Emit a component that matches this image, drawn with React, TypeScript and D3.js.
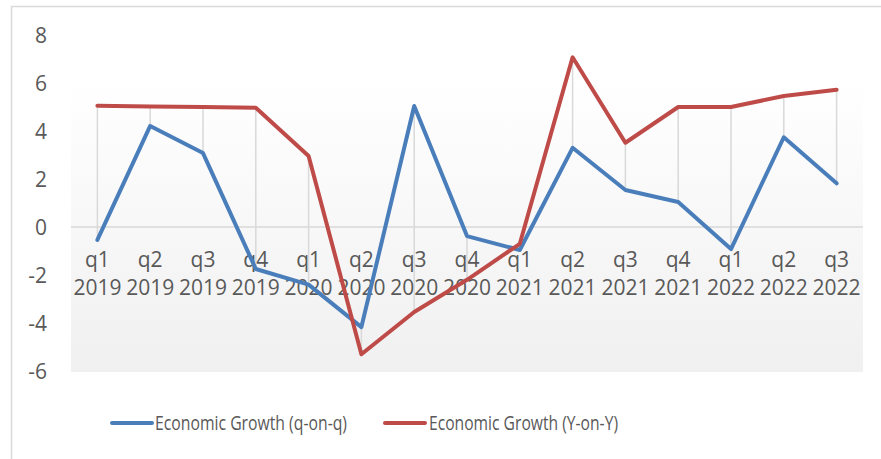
import React from "react";
import * as d3 from "d3";

const quarters = ["q1","q2","q3","q4","q1","q2","q3","q4","q1","q2","q3","q4","q1","q2","q3"];
const years = ["2019","2019","2019","2019","2020","2020","2020","2020","2021","2021","2021","2021","2022","2022","2022"];
const qoq = [-0.54, 4.21, 3.08, -1.75, -2.4, -4.17, 5.04, -0.38, -0.96, 3.3, 1.54, 1.04, -0.92, 3.74, 1.82];
const yoy = [5.05, 5.02, 5.0, 4.97, 2.96, -5.3, -3.54, -2.2, -0.7, 7.07, 3.51, 5.0, 5.0, 5.46, 5.72];
const yTicks = [-6, -4, -2, 0, 2, 4, 6, 8];
const seriesNames = ["Economic Growth (q-on-q)", "Economic Growth (Y-on-Y)"];
const colors = ["#4a7ebb", "#be4b48"];

const W = 881, H = 459;
const plotL = 71, plotR = 863, plotTop = 80, plotBottom = 372;
const FONT = "'Open Sans', 'Noto Sans', sans-serif";

export default function App() {
  const cats = quarters.map((q, i) => `${q} ${years[i]}`);
  const x = d3.scaleBand<string>().domain(cats).range([plotL, plotR]);
  const cx = (i: number) => (x(cats[i]) as number) + x.bandwidth() / 2;
  const y = d3.scaleLinear().domain([-6, 8]).range([371, 35]);
  const line = d3.line<number>().x((_, i) => cx(i)).y((d) => y(d));
  const series = [qoq, yoy];
  return (
    <svg width={W} height={H} style={{ position: "fixed", left: 0, top: 0, background: "#fff" }}>
      <defs>
        <linearGradient id="pg" x1="0" y1="0" x2="0" y2="1">
          <stop offset="0" stopColor="#ffffff" />
          <stop offset="1" stopColor="#f0f0f0" />
        </linearGradient>
      </defs>
      <rect x={11.5} y={6.5} width={W} height={H} fill="#fff" stroke="#d9d9d9" strokeWidth={1.5} />
      <rect x={plotL} y={plotTop} width={plotR - plotL} height={plotBottom - plotTop} fill="url(#pg)" />
      <line x1={plotL} x2={plotR} y1={y(0)} y2={y(0)} stroke="#d9d9d9" strokeWidth={1.5} />
      {cats.map((c, i) => (
        <line key={c} x1={cx(i)} x2={cx(i)} y1={y(Math.max(qoq[i], yoy[i]))} y2={y(Math.min(qoq[i], yoy[i]))} stroke="#d9d9d9" strokeWidth={1.5} />
      ))}
      {yTicks.map((t) => (
        <text key={t} x={47} y={y(t) + 7.5} textAnchor="end" fontFamily={FONT} fontSize={21} fill="#595959">{t}</text>
      ))}
      {cats.map((c, i) => (
        <g key={c}>
          <text x={cx(i)} y={267} textAnchor="middle" fontFamily={FONT} fontSize={21} fill="#595959">{quarters[i]}</text>
          <text x={cx(i)} y={295} textAnchor="middle" fontFamily={FONT} fontSize={21} fill="#595959">{years[i]}</text>
        </g>
      ))}
      {series.map((s, k) => (
        <path key={k} d={line(s) as string} fill="none" stroke={colors[k]} strokeWidth={4} strokeLinejoin="round" strokeLinecap="round" />
      ))}
      {[0, 1].map((k) => {
        const lx = k === 0 ? 112 : 385;
        const tx = k === 0 ? 155 : 429;
        const tl = k === 0 ? 192 : 189;
        return (
          <g key={k}>
            <line x1={lx} x2={lx + 40} y1={423} y2={423} stroke={colors[k]} strokeWidth={4} strokeLinecap="round" />
            <text x={tx} y={430} fontFamily={FONT} fontSize={20} fill="#595959" textLength={tl} lengthAdjust="spacingAndGlyphs">{seriesNames[k]}</text>
          </g>
        );
      })}
    </svg>
  );
}
